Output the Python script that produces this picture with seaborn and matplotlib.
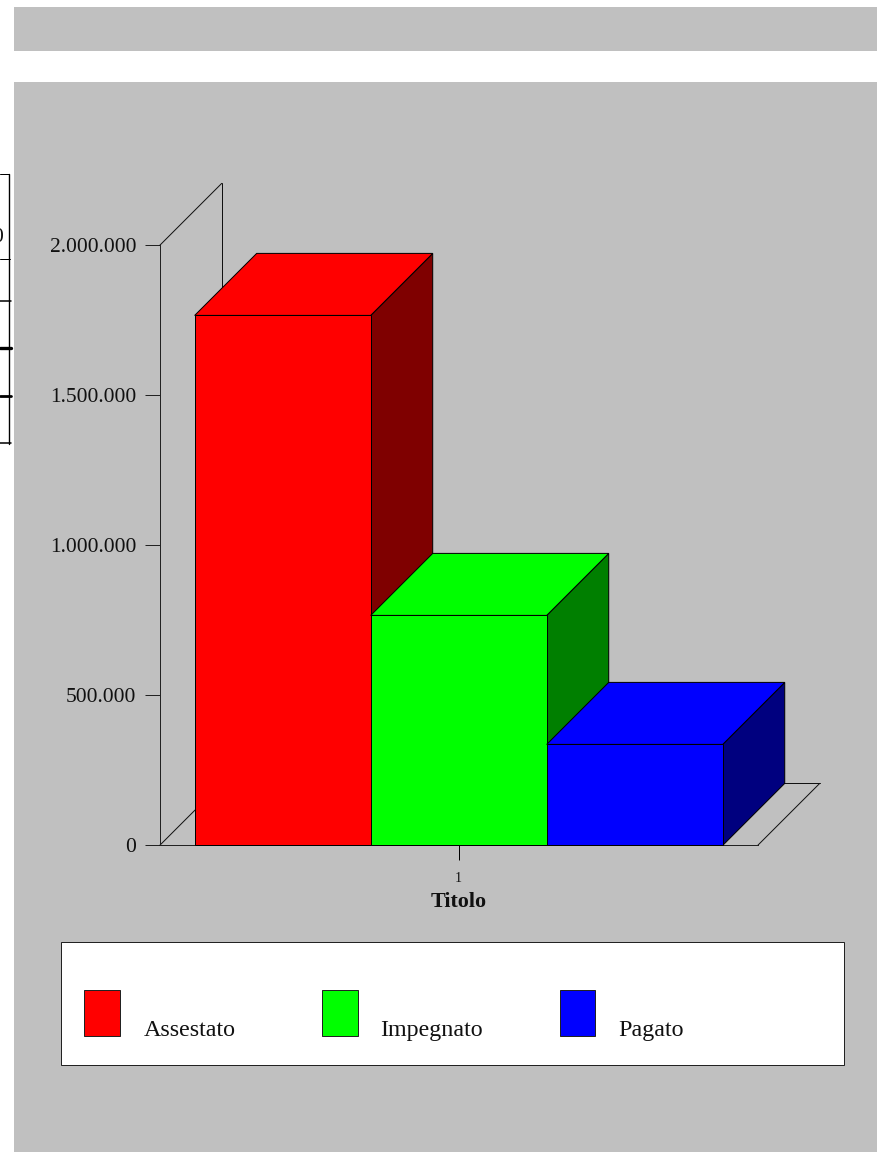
import matplotlib
matplotlib.use("Agg")
import matplotlib.pyplot as plt
import seaborn as sns
import pandas as pd
from matplotlib.patches import Rectangle, Polygon
from matplotlib.lines import Line2D
from matplotlib.transforms import Affine2D, ScaledTranslation

series = ["Assestato", "Impegnato", "Pagato"]
values = [1766667, 766667, 336667]
front_colors = ["#ff0000", "#00ff00", "#0000ff"]
side_colors = ["#7f0000", "#007f00", "#00007f"]
category = ["1"]
y_ticks = [0, 500000, 1000000, 1500000, 2000000]
y_labels = ["0", "500.000", "1.000.000", "1.500.000", "2.000.000"]
x_title = "Titolo"

sns.set_theme(style="white")
plt.rcParams["font.family"] = ["Liberation Serif", "DejaVu Serif"]

W, H = 877, 1152
DPI = 100
GRAY = "#c0c0c0"
fig = plt.figure(figsize=(W / DPI, H / DPI), dpi=DPI, facecolor="white")
px = Affine2D().scale(1 / W, -1 / H).translate(0, 1) + fig.transFigure
LW = 0.72

# page panels
for x, y, w, h in [(14, 7, 863, 44), (14, 82, 863, 1070)]:
    fig.add_artist(Rectangle((x, y), w, h, transform=px, fc=GRAY, ec="none", zorder=-3))

# cropped table fragment at the left edge
for y, x1, lw in [(174, 8.5, LW), (259, 9.5, LW), (301, 11, 1.1), (348, 11, 2.4),
                  (396, 11, 2.0), (443, 11, 1.1)]:
    fig.add_artist(Line2D([0, x1], [y, y], transform=px, color="black", lw=lw, zorder=-2))
fig.add_artist(Line2D([8.5, 8.5], [174, 444], transform=px, color="black", lw=1.0, zorder=-2))
fig.text(3 / W, 1 - 237.5 / H, "0", ha="right", va="center", fontsize=15.5, color="#111111")

# main axes: x 160..758, y 245..845 in pixels
ax = fig.add_axes([159.7 / W, 1 - 845.4 / H, 598 / W, 600 / H])
ax.patch.set_alpha(0)
df = pd.DataFrame({"Titolo": category * len(series), "Serie": series, "Valore": values})
sns.barplot(data=df, x="Titolo", y="Valore", hue="Serie", hue_order=series,
            palette=front_colors, saturation=1, width=0.883, gap=0, dodge=True,
            edgecolor="black", linewidth=LW, legend=False, ax=ax)
ax.set_xlim(-0.5, 0.5)
ax.set_ylim(0, 2000000)
ax.set_yticks(y_ticks, y_labels)
ax.set_xlabel(x_title, fontsize=15.8, fontweight="bold", color="#111111", labelpad=5.2)
ax.set_ylabel("")
ax.tick_params(axis="y", left=True, length=10.8, width=LW, color="#222222", pad=6.0,
               labelsize=15.5, labelcolor="#111111")
ax.tick_params(axis="x", bottom=True, length=10.8, width=LW, color="black", pad=8.0,
               labelsize=10, labelcolor="#111111")
for side in ["top", "right"]:
    ax.spines[side].set_visible(False)
for side in ["left", "bottom"]:
    ax.spines[side].set_linewidth(LW)
    ax.spines[side].set_color("#222222")
    ax.spines[side].set_zorder(1.5)

# 3D depth: a fixed 62 px offset up and to the right
depth = ScaledTranslation(62 / DPI, 62 / DPI, fig.dpi_scale_trans)
x0, x1 = ax.get_xlim()
y0, y1 = ax.get_ylim()


def receding(xp, yp):
    """Line going from a data point to the same point pushed back in depth."""
    a = ax.transData.transform((xp, yp))
    b = (ax.transData + depth).transform((xp, yp))
    ax.add_line(Line2D([a[0], b[0]], [a[1], b[1]], transform=None, color="#111111",
                       lw=LW, zorder=1, clip_on=False))


receding(x0, y1)
receding(x0, y0)
receding(x1, y0)
back = ax.transData + depth
ax.add_line(Line2D([x0, x0], [y0, y1], transform=back, color="#111111", lw=LW, zorder=1, clip_on=False))
ax.add_line(Line2D([x0, x1], [y0, y0], transform=back, color="#111111", lw=LW, zorder=1, clip_on=False))

bars = sorted(ax.patches, key=lambda b: b.get_x())
for i, bar in enumerate(bars):
    z = 3 + i
    bar.set_zorder(z + 0.2)
    bar.set_clip_on(False)
    left, right, top = bar.get_x(), bar.get_x() + bar.get_width(), bar.get_height()
    tr = ax.transData.transform
    tb = back.transform
    side = [tr((right, 0)), tb((right, 0)), tb((right, top)), tr((right, top))]
    cap = [tr((left, top)), tb((left, top)), tb((right, top)), tr((right, top))]
    ax.add_patch(Polygon(side, closed=True, transform=None, fc=side_colors[i], ec="black",
                         lw=LW, zorder=z, clip_on=False))
    ax.add_patch(Polygon(cap, closed=True, transform=None, fc=front_colors[i], ec="black",
                         lw=LW, zorder=z + 0.1, clip_on=False))

# legend panel
fig.add_artist(Rectangle((61, 942), 782.5, 122.5, transform=px, fc="white", ec="#222222", lw=LW, zorder=-1))
for name, color, sx, tx in zip(series, front_colors, [84, 322, 559.5], [143.5, 380.5, 618]):
    fig.add_artist(Rectangle((sx, 989.5), 35.5, 46.5, transform=px, fc=color, ec="#222222", lw=LW, zorder=1))
    fig.text(tx / W, 1 - 1036 / H, name, ha="left", va="baseline", fontsize=17.3, color="#111111")

fig.savefig("out.png", dpi=DPI, facecolor="white")
